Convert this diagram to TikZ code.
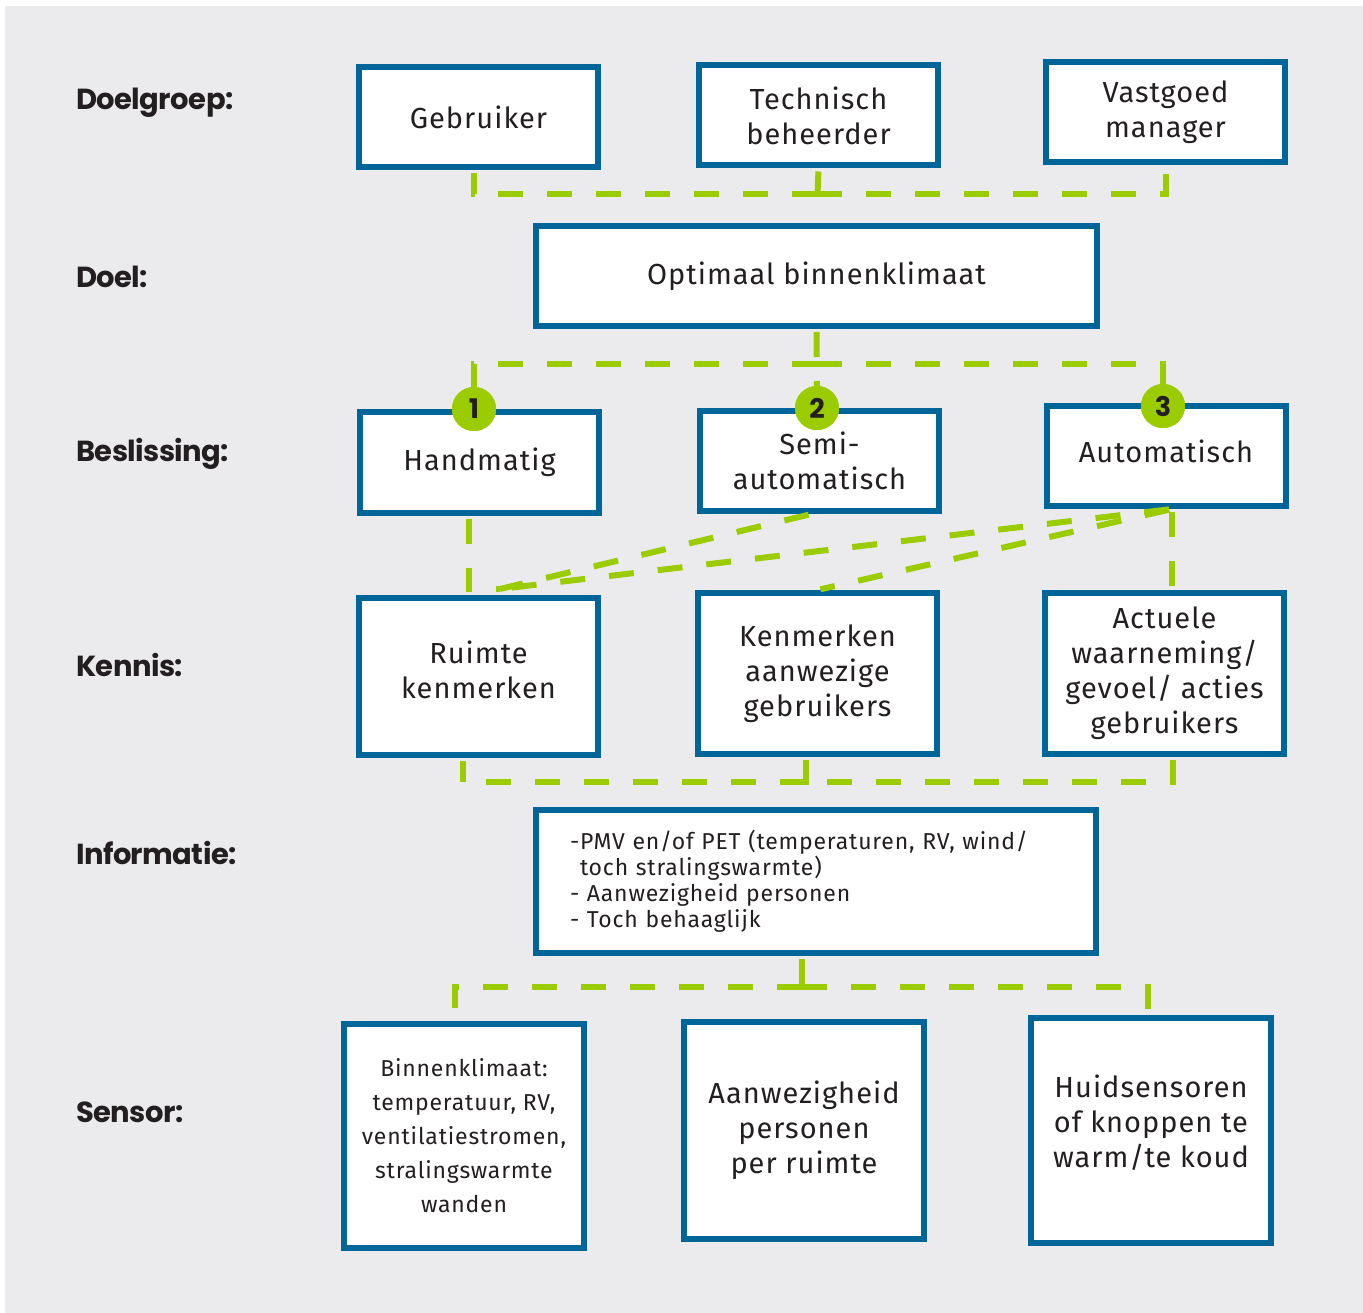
\documentclass[tikz,border=0pt]{standalone}
\usepackage{xcolor}
\usepackage{fontspec}
\usepackage{tikz}
\usetikzlibrary{positioning}
\usetikzlibrary{shapes,calc}
\setmainfont{Fira Sans}[LetterSpace=3.5]
\newfontfamily\labelfont{Poppins}[LetterSpace=-2]

\definecolor{kvblue}{HTML}{006699}
\definecolor{kvgreen}{HTML}{9ACC00}
\definecolor{kvgrey}{HTML}{EBEBED}
\definecolor{kvtext}{HTML}{231F20}

\tikzset{
        box/.style={draw=kvblue, line width=6pt, fill=white, minimum width=239pt, minimum height=100pt,
                inner sep=0pt, align=center, text=kvtext, font=\fontsize{29}{35}\selectfont},
        link/.style={draw=kvgreen, line width=6pt, dash pattern=on 25pt off 24pt, shorten <=3pt, shorten >=3pt},
        rowlabel/.style={anchor=base west, inner sep=0pt, text=kvtext, font=\labelfont\bfseries\fontsize{29}{34}\selectfont},
        badge/.style={circle, fill=kvgreen, minimum size=44pt, inner sep=0pt, text=kvtext,
                font=\labelfont\bfseries\fontsize{27}{27}\selectfont}
}

\begin{document}
\begin{tikzpicture}[x=1pt, y=-1pt]
        \useasboundingbox (0,0) rectangle (1363,1313);
        \fill[kvgrey] (5,6) rectangle (1363,1313);

        % Row labels
        \node[rowlabel] (ldoelgroep) at (76,110) {Doelgroep:};
        \node[rowlabel] (ldoel) at (76,288) {Doel:};
        \node[rowlabel] (lbeslissing) at (76,461) {Beslissing:};
        \node[rowlabel] (lkennis) at (76,676) {Kennis:};
        \node[rowlabel] (linformatie) at (76,864) {Informatie:};
        \node[rowlabel] (lsensor) at (76,1122) {Sensor:};

        % Define the nodes
        \node[box] (gebr) at (478.5,117) {Gebruiker};
        \node[box] (tech) at (818.5,115.5) {Technisch\\beheerder};
        \node[box] (vast) at (1165.5,112) {Vastgoed\\manager};

        \node[box, minimum width=561pt] (optimaal) at (816.5,276) {Optimaal binnenklimaat};

        \node[box] (hand) at (479.5,462.5) {Handmatig};
        \node[box] (semi) at (819.5,461) {Semi-\\automatisch};
        \node[box] (auto) at (1166,456) {Automatisch\\[-26pt]};

        \node[box, minimum height=157pt] (ruimte) at (478.5,676) {Ruimte\\kenmerken\\[-22pt]};
        \node[box, minimum height=161pt] (kenm) at (817.5,673.5) {Kenmerken\\aanwezige\\gebruikers};
        \node[box, minimum height=161pt] (actu) at (1164.5,673.5) {Actuele\\waarneming/\\gevoel/ acties\\gebruikers};

        \node[box, minimum width=560pt, minimum height=143pt, text width=492pt, align=left,
                font=\fontsize{23}{26}\selectfont] (info) at (816,881.5)
                {-PMV en/of PET (temperaturen, RV, wind/\\\hspace*{10pt}toch stralingswarmte)\\- Aanwezigheid personen\\- Toch behaaglijk};

        \node[box, minimum width=240pt, minimum height=224pt, font=\fontsize{23}{34}\selectfont] (binnen) at (464,1136)
                {Binnenklimaat:\\temperatuur, RV,\\ventilatiestromen,\\stralingswarmte\\wanden};
        \node[box, minimum width=240pt, minimum height=217pt] (aanw) at (804,1130.5) {Aanwezigheid\\personen\\per ruimte};
        \node[box, minimum width=240pt, minimum height=225pt] (huid) at (1151,1130.5) {Huidsensoren\\of knoppen te\\warm/te koud\\[-16pt]};

        \node[badge] (b1) at (474,409) {1};
        \node[badge] (b2) at (817,408) {2};
        \node[badge] (b3) at (1163,406) {3};

        \coordinate (topjoin) at (817,194);
        \coordinate (midjoin) at (817,364);
        \coordinate (rin) at (500,589);
        \coordinate (kjoin) at (805,782);
        \coordinate (sjoin) at (802,987);

        % Draw the links
        \draw[link, shorten <=0pt] (topjoin) -| ([xshift=-5pt]gebr.south);
        \draw[link, shorten <=0pt] (topjoin) -| (vast.south);
        \draw[link] (tech.south) -- (optimaal.north);

        \draw[link, shorten <=0pt, shorten >=0pt] (midjoin) -| (b1.north);
        \draw[link, shorten <=0pt, shorten >=0pt] (midjoin) -| (b3.north);
        \draw[link, shorten >=0pt] (optimaal.south) -- (b2.north);

        \draw[link, shorten >=0pt] ([xshift=-11pt]hand.south) |- (rin);
        \draw[link, shorten >=0pt] ([xshift=-8pt]semi.south) -- (rin);
        \draw[link, shorten >=0pt] ([xshift=6pt]auto.south) -- (rin);
        \draw[link] ([xshift=6pt]auto.south) -- (kenm.north);
        \draw[link] ([xshift=6pt]auto.south) -- ([xshift=6pt]auto.south |- actu.north);

        \draw[link, shorten <=0pt] (kjoin) -| ([xshift=-16pt]ruimte.south);
        \draw[link, shorten >=0pt] ([xshift=8pt]actu.south) |- (kjoin);
        \draw[link] ([xshift=-12pt]kenm.south) -- ([xshift=-12pt]kenm.south |- info.north);

        \draw[link] ([xshift=-14pt]info.south) -- (sjoin);
        \draw[link, shorten <=0pt] (sjoin) -| ([xshift=-9pt]binnen.north);
        \draw[link, shorten <=0pt] (sjoin) -| ([xshift=-3pt]huid.north);

        % Badges on top of the links
        \node[badge] at (b1) {1};
        \node[badge] at (b2) {2};
        \node[badge] at (b3) {3};
\end{tikzpicture}
\end{document}
